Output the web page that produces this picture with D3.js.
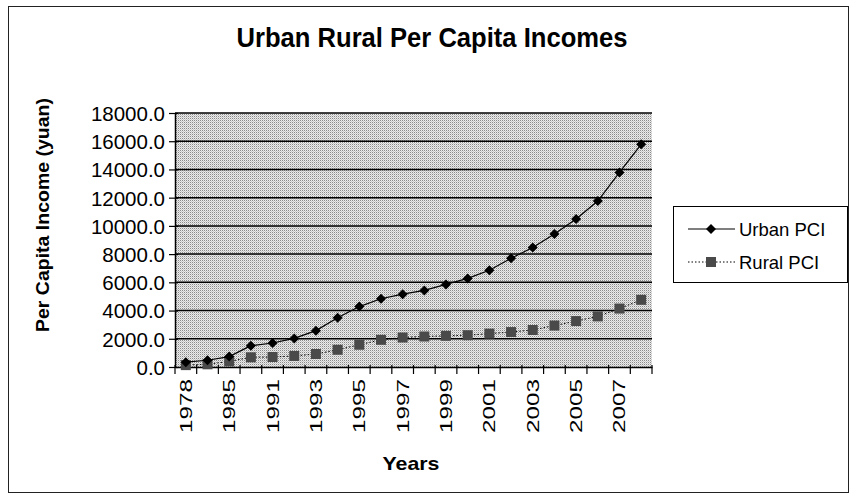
<!DOCTYPE html>
<html><head><meta charset="utf-8">
<script src="https://cdn.jsdelivr.net/npm/d3@7"></script>
<style>
body{margin:0;background:#fff}
svg{display:block;font-family:"Liberation Sans",Arial,sans-serif}
</style>
</head><body>
<svg id="chart" width="854" height="501"></svg>
<script>
const years = ["1978","1980","1985","1990","1991","1992","1993","1994","1995","1996","1997","1998","1999","2000","2001","2002","2003","2004","2005","2006","2007","2008"];
const urbanPCI = [343.4,477.6,739.1,1510.2,1700.6,2026.6,2577.4,3496.2,4283.0,4838.9,5160.3,5425.1,5854.0,6280.0,6859.6,7702.8,8472.2,9421.6,10493.0,11759.5,13785.8,15780.8];
const ruralPCI = [133.6,191.3,397.6,686.3,708.6,784.0,921.6,1221.0,1577.7,1926.1,2090.1,2162.0,2210.3,2253.4,2366.4,2475.6,2622.2,2936.4,3254.9,3587.0,4140.4,4760.6];
const yTicks = [0,2000,4000,6000,8000,10000,12000,14000,16000,18000];
const labelYears = years.filter((d,i)=>i%2===0);
const seriesNames = ["Urban PCI","Rural PCI"];

const svg = d3.select("#chart");
const L=175, R=652, T=113, B=367;
const x = d3.scaleBand().domain(years).range([L,R]).padding(0);
const y = d3.scaleLinear().domain([0,18000]).range([B,T]);
const bw = x.bandwidth();
const cx = d => x(d)+bw/2;

// outer border
svg.append("rect").attr("x",8.5).attr("y",6.5).attr("width",840).attr("height",486)
  .attr("fill","#fff").attr("stroke","#222").attr("stroke-width",1);

// pattern for plot background
const defs = svg.append("defs");
const pat = defs.append("pattern").attr("id","dots").attr("width",2).attr("height",2)
  .attr("patternUnits","userSpaceOnUse");
pat.append("rect").attr("width",2).attr("height",2).attr("fill","#ebebeb");
pat.append("rect").attr("width",1).attr("height",1).attr("fill","#8a8a8a");
pat.append("rect").attr("x",1).attr("y",1).attr("width",1).attr("height",1).attr("fill","#c8c8c8");

svg.append("rect").attr("x",L).attr("y",T).attr("width",R-L).attr("height",B-T).attr("fill","url(#dots)");

// title
svg.append("text").attr("x",432).attr("y",47).attr("text-anchor","middle")
  .attr("font-size",27).attr("font-weight","bold").attr("textLength",391).attr("lengthAdjust","spacingAndGlyphs")
  .text("Urban Rural Per Capita Incomes");

// gridlines
svg.append("g").selectAll("line").data(yTicks.filter(d=>d>0)).join("line")
  .attr("x1",L).attr("x2",R).attr("y1",d=>y(d)).attr("y2",d=>y(d))
  .attr("stroke","#000").attr("stroke-width",1.5);

// y axis
const ya = svg.append("g").attr("transform",`translate(${L},0)`)
  .call(d3.axisLeft(y).tickValues(yTicks).tickFormat(d3.format(".1f")).tickSizeOuter(0).tickSizeInner(5));
ya.select(".domain").attr("stroke","#000").attr("stroke-width",1.5);
ya.selectAll(".tick line").attr("x1",3).attr("x2",-6).attr("stroke","#000").attr("stroke-width",1.2);
ya.selectAll(".tick text").attr("x",-10).attr("dy","0.36em").attr("font-size",20.5)
  .attr("font-family","Liberation Sans,Arial,sans-serif").attr("fill","#000");

// x axis
const xa = svg.append("g").attr("transform",`translate(0,${B})`)
  .call(d3.axisBottom(x).tickSize(0).tickFormat(d=>labelYears.includes(d)?d:""));
xa.select(".domain").attr("stroke","#000").attr("stroke-width",1.5);
xa.selectAll(".tick text")
  .attr("font-size",17).attr("font-family","Liberation Sans,Arial,sans-serif").attr("fill","#000")
  .attr("text-anchor","end").attr("y",0).attr("dy",0)
  .attr("transform","translate(6,12) rotate(-90)")
  .attr("textLength",d=>labelYears.includes(d)?54:null).attr("lengthAdjust","spacingAndGlyphs");
const bounds = years.map(d=>x(d)).concat([x.range()[1]]);
svg.append("g").selectAll("line").data(bounds).join("line")
  .attr("x1",d=>d).attr("x2",d=>d).attr("y1",B-2).attr("y2",B+7)
  .attr("stroke","#000").attr("stroke-width",1.2);

// axis titles
svg.append("text").attr("transform","translate(49,215) rotate(-90)").attr("text-anchor","middle")
  .attr("font-size",18.5).attr("font-weight","bold").attr("textLength",234).attr("lengthAdjust","spacingAndGlyphs")
  .text("Per Capita Income (yuan)");
svg.append("text").attr("x",411).attr("y",470).attr("text-anchor","middle")
  .attr("font-size",19).attr("font-weight","bold").attr("textLength",57).attr("lengthAdjust","spacingAndGlyphs")
  .text("Years");

// series
const urban = years.map((d,i)=>({year:d,v:urbanPCI[i]}));
const rural = years.map((d,i)=>({year:d,v:ruralPCI[i]}));
const line = d3.line().x(d=>cx(d.year)).y(d=>y(d.v));

svg.append("path").datum(rural).attr("d",line).attr("fill","none")
  .attr("stroke","#000").attr("stroke-width",1).attr("stroke-dasharray","1.5,2");
svg.append("g").selectAll("rect").data(rural).join("rect")
  .attr("x",d=>cx(d.year)-5).attr("y",d=>y(d.v)-5).attr("width",10).attr("height",10)
  .attr("fill","#4a4a4a");

svg.append("path").datum(urban).attr("d",line).attr("fill","none")
  .attr("stroke","#000").attr("stroke-width",1.2);
const diamond = "M0,-5L5,0L0,5L-5,0Z";
svg.append("g").selectAll("path").data(urban).join("path")
  .attr("d",diamond).attr("transform",d=>`translate(${cx(d.year)},${y(d.v)})`).attr("fill","#000");

// legend
const lg = svg.append("g");
lg.append("rect").attr("x",673.5).attr("y",206.5).attr("width",174).attr("height",76)
  .attr("fill","#fff").attr("stroke","#000").attr("stroke-width",1);
const ly = [229,262];
lg.append("line").attr("x1",688).attr("x2",735).attr("y1",ly[0]).attr("y2",ly[0]).attr("stroke","#000").attr("stroke-width",1.2);
lg.append("path").attr("d",diamond).attr("transform",`translate(711,${ly[0]})`).attr("fill","#000");
lg.append("line").attr("x1",688).attr("x2",735).attr("y1",ly[1]).attr("y2",ly[1]).attr("stroke","#000").attr("stroke-width",1).attr("stroke-dasharray","1.5,2");
lg.append("rect").attr("x",706).attr("y",ly[1]-5).attr("width",10).attr("height",10).attr("fill","#4a4a4a");
lg.selectAll("text.lbl").data(seriesNames).join("text").attr("class","lbl")
  .attr("x",739).attr("y",(d,i)=>ly[i]+7).attr("font-size",18.5).text(d=>d);
</script>
</body></html>
